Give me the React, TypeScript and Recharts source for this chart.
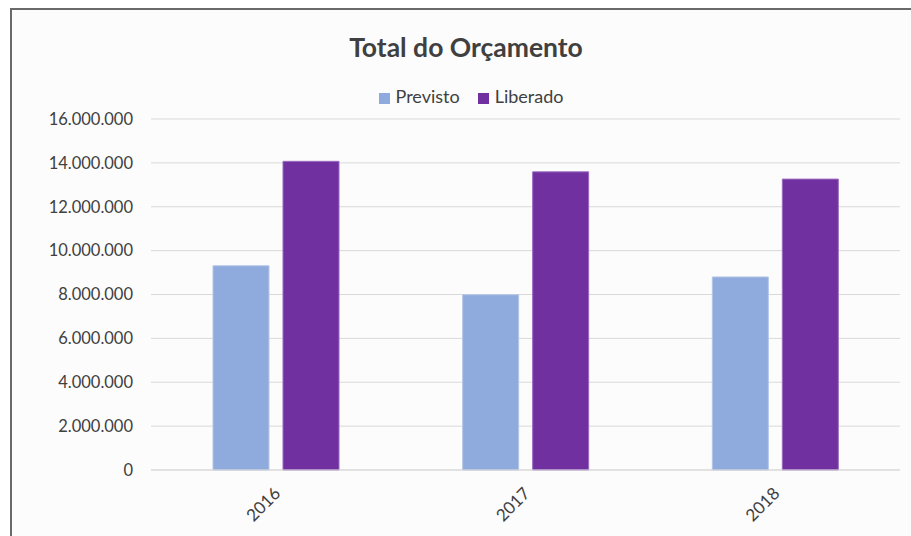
import React from 'react';
import { BarChart, Bar, XAxis, YAxis, CartesianGrid, Legend } from 'recharts';

const categories = ['2016', '2017', '2018'];
const previsto = [9310000, 7990000, 8800000];
const liberado = [14070000, 13590000, 13260000];
const yTicks = [0, 2000000, 4000000, 6000000, 8000000, 10000000, 12000000, 14000000, 16000000];
const seriesNames = ['Previsto', 'Liberado'];
const seriesColors = ['#8FAADC', '#7030A0'];
const seriesStrokes = ['#B4C7E7', '#9A6BC0'];
const title = 'Total do Orçamento';

const data = categories.map((c, i) => ({ year: c, Previsto: previsto[i], Liberado: liberado[i] }));

const fmt = (v: number) => String(v).replace(/\B(?=(\d{3})+(?!\d))/g, '.');

const FONT = 'Lato, "Open Sans", sans-serif';

export default function App() {
  return (
    <div style={{ position: 'fixed', left: 0, top: 0, width: 911, height: 536, overflow: 'hidden', background: '#ffffff' }}>
      <div
        style={{
          position: 'absolute',
          left: 10,
          top: 8,
          width: 908,
          height: 540,
          borderTop: '2px solid #6a6a6a',
          borderLeft: '2px solid #6a6a6a',
          background: '#fcfcfc',
          fontFamily: FONT,
        }}
      >
        <div
          style={{
            position: 'absolute',
            left: 0,
            top: 21,
            width: 908,
            textAlign: 'center',
            fontSize: 26.5,
            fontWeight: 700,
            color: '#404040',
            fontFamily: FONT,
            lineHeight: '32px',
          }}
        >
          {title}
        </div>
        <BarChart
          width={908}
          height={526}
          data={data}
          margin={{ top: 87, right: 20, bottom: 0, left: 0 }}
          barGap={14}
          barSize={56}
        >
          <CartesianGrid vertical={false} stroke="#d9d9d9" strokeWidth={1} />
          <XAxis
            dataKey="year"
            height={66}
            axisLine={{ stroke: '#d9d9d9' }}
            tickLine={false}
            interval={0}
            angle={-45}
            textAnchor="end"
            tick={{ fill: '#404040', fontSize: 17, fontFamily: FONT, dx: -3 }}
            tickMargin={10}
          />
          <YAxis
            width={139}
            domain={[0, 16000000]}
            ticks={yTicks}
            tickFormatter={fmt}
            axisLine={false}
            tickLine={false}
            tickMargin={12}
            tick={{ fill: '#404040', fontSize: 16.5, fontFamily: FONT }}
          />
          <Legend
            verticalAlign="top"
            align="center"
            iconType="square"
            iconSize={11}
            itemSorter={(item: any) => seriesNames.indexOf(item.value)}
            wrapperStyle={{ top: 75, left: 14, width: 908, fontSize: 18, fontFamily: FONT, color: '#404040' }}
            formatter={(value: string) => (
              <span style={{ color: '#404040', marginLeft: 2, marginRight: 8 }}>{value}</span>
            )}
          />
          {seriesNames.map((name, i) => (
            <Bar
              key={name}
              dataKey={name}
              fill={seriesColors[i]}
              stroke={seriesStrokes[i]}
              strokeWidth={1}
              isAnimationActive={false}
            />
          ))}
        </BarChart>
      </div>
    </div>
  );
}
